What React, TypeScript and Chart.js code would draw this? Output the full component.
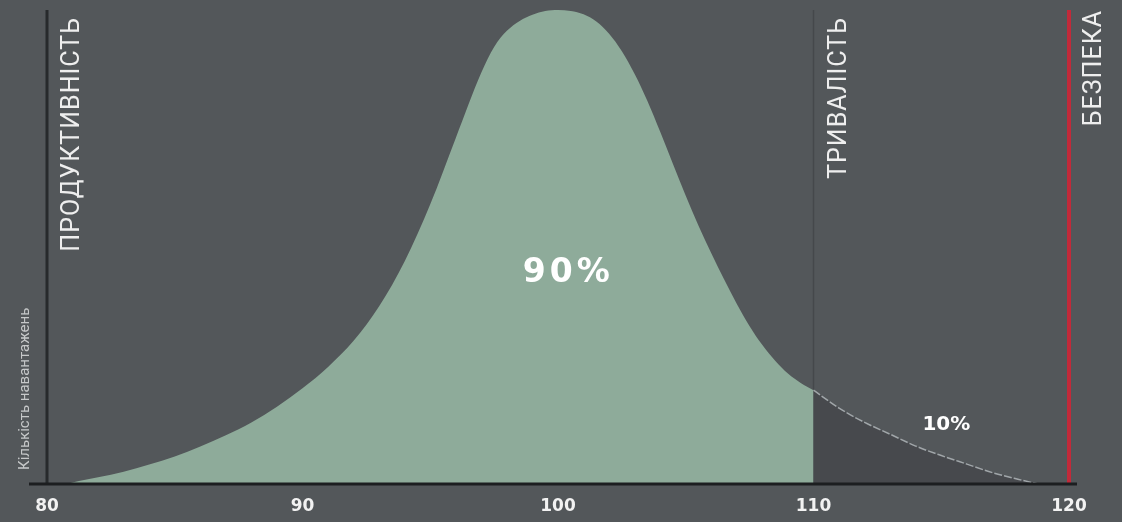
import React, { useEffect, useRef } from "react";
import { Chart, registerables } from "chart.js";

Chart.register(...registerables);

// Distribution curve up to the 110 threshold (90% area)
const mainX = [80.8, 81, 82, 83, 84, 85, 86, 87, 88, 89, 90, 91, 92, 93, 94, 95, 96, 97, 97.5, 98, 98.5, 99, 99.5, 100, 100.5, 101, 101.5, 102, 102.5, 103, 103.5, 104, 104.5, 105, 105.5, 106, 106.5, 107, 107.5, 108, 108.5, 109, 109.5, 110];
const mainY = [0, 0.3, 1.4, 2.6, 4.1, 5.8, 7.9, 10.3, 13.0, 16.3, 20.2, 24.7, 30.2, 37.5, 47.0, 59.0, 73.0, 86.8, 92.2, 95.6, 97.7, 99.0, 99.8, 100, 99.8, 99.1, 97.6, 95.0, 91.3, 86.5, 80.8, 74.3, 67.5, 60.8, 54.5, 48.7, 43.2, 38.0, 33.3, 29.3, 26.0, 23.3, 21.3, 19.8];
// Tail beyond 110 (10% area)
const tailX = [110, 111, 112, 113, 114, 115, 116, 117, 118, 118.8];
const tailY = [19.8, 16.0, 13.0, 10.5, 8.0, 6.0, 4.2, 2.4, 1.0, 0];

const xTicks = [80, 90, 100, 110, 120];
const thresholds = [
  { value: 80, label: "ПРОДУКТИВНІСТЬ" },
  { value: 110, label: "ТРИВАЛІСТЬ" },
  { value: 120, label: "БЕЗПЕКА" },
];
const yTitle = "Кількість навантажень";
const mainLabel = "90%";
const tailLabel = "10%";

const BG = "#53575a";
const GREEN = "#8eab9a";

const decoPlugin = {
  id: "deco",
  beforeDatasetsDraw(chart: any) {
    const { ctx, chartArea, scales } = chart;
    const x110 = scales.x.getPixelForValue(110);
    ctx.save();
    ctx.strokeStyle = "#45484b";
    ctx.lineWidth = 1.5;
    ctx.beginPath();
    ctx.moveTo(x110, chartArea.top);
    ctx.lineTo(x110, chartArea.bottom);
    ctx.stroke();
    ctx.restore();
  },
  afterDatasetsDraw(chart: any) {
    const { ctx, chartArea, scales } = chart;
    const xs = scales.x;
    const ys = scales.y;
    const x80 = xs.getPixelForValue(80);
    const x120 = xs.getPixelForValue(120);
    ctx.save();
    // left axis line
    ctx.strokeStyle = "#272a2c";
    ctx.lineWidth = 3;
    ctx.beginPath();
    ctx.moveTo(x80, chartArea.top);
    ctx.lineTo(x80, chartArea.bottom);
    ctx.stroke();
    // red safety line
    ctx.strokeStyle = "#c22a3a";
    ctx.lineWidth = 4;
    ctx.beginPath();
    ctx.moveTo(x120, chartArea.top);
    ctx.lineTo(x120, chartArea.bottom);
    ctx.stroke();
    // baseline
    ctx.strokeStyle = "#1c1e20";
    ctx.lineWidth = 3;
    ctx.beginPath();
    ctx.moveTo(x80 - 18, chartArea.bottom);
    ctx.lineTo(x120 + 8, chartArea.bottom);
    ctx.stroke();

    // vertical threshold labels
    ctx.fillStyle = "#eeeeee";
    ctx.font = "400 25px Roboto";
    (ctx as any).letterSpacing = "1px";
    ctx.textBaseline = "middle";
    ctx.textAlign = "right";
    thresholds.forEach((t, i) => {
      const px = xs.getPixelForValue(t.value) + 26;
      const top = chartArea.top + (i === 2 ? 0 : 7);
      ctx.save();
      ctx.translate(px, top);
      ctx.rotate(-Math.PI / 2);
      ctx.fillText(t.label, 0, 0);
      ctx.restore();
    });

    // y title
    (ctx as any).letterSpacing = "0px";
    ctx.fillStyle = "#c6c8c9";
    ctx.font = "400 15px Roboto";
    ctx.textAlign = "left";
    ctx.save();
    ctx.translate(25, chartArea.bottom - 14);
    ctx.rotate(-Math.PI / 2);
    ctx.fillText(yTitle, 0, 0);
    ctx.restore();

    // percentage labels
    ctx.fillStyle = "#ffffff";
    ctx.textAlign = "center";
    ctx.font = "bold 33px 'DejaVu Sans'";
    (ctx as any).letterSpacing = "4px";
    ctx.fillText(mainLabel, xs.getPixelForValue(100.4), ys.getPixelForValue(44.5));
    ctx.font = "bold 20px 'DejaVu Sans'";
    (ctx as any).letterSpacing = "0px";
    ctx.fillText(tailLabel, xs.getPixelForValue(115.2), ys.getPixelForValue(12.5));
    ctx.restore();
  },
};

export default function App() {
  const canvasRef = useRef<HTMLCanvasElement | null>(null);

  useEffect(() => {
    document.body.style.margin = "0";
    const canvas = canvasRef.current;
    if (!canvas) return;
    const chart = new Chart(canvas, {
      type: "line",
      data: {
        datasets: [
          {
            data: mainX.map((x, i) => ({ x, y: mainY[i] })),
            fill: "origin",
            backgroundColor: GREEN,
            borderColor: GREEN,
            borderWidth: 0,
            pointRadius: 0,
            cubicInterpolationMode: "monotone",
            order: 1,
          },
          {
            data: tailX.map((x, i) => ({ x, y: tailY[i] })),
            fill: "origin",
            backgroundColor: "#47494d",
            borderColor: "rgba(170,175,178,0.9)",
            borderWidth: 1.5,
            borderDash: [8, 2],
            pointRadius: 0,
            cubicInterpolationMode: "monotone",
            order: 2,
          },
        ],
      },
      options: {
        animation: false,
        responsive: true,
        maintainAspectRatio: false,
        layout: { padding: { left: 47, right: 53, top: 10, bottom: 4 } },
        plugins: {
          legend: { display: false },
          tooltip: { enabled: false },
        },
        scales: {
          x: {
            type: "linear",
            min: 80,
            max: 120,
            grid: { display: false, drawTicks: false },
            border: { display: false },
            afterBuildTicks: (scale: any) => {
              scale.ticks = xTicks.map((v) => ({ value: v }));
            },
            afterFit: (scale: any) => {
              scale.height = 34;
            },
            ticks: {
              color: "#f2f2f2",
              padding: 12,
              maxRotation: 0,
              autoSkip: false,
              font: { family: "'DejaVu Sans'", weight: "bold", size: 17 },
            },
          },
          y: {
            display: false,
            min: 0,
            max: 100,
          },
        },
      },
      plugins: [decoPlugin],
    });
    return () => chart.destroy();
  }, []);

  return (
    <div style={{ position: "fixed", left: 0, top: 0, width: 1122, height: 522, background: BG }}>
      <canvas ref={canvasRef} />
    </div>
  );
}
